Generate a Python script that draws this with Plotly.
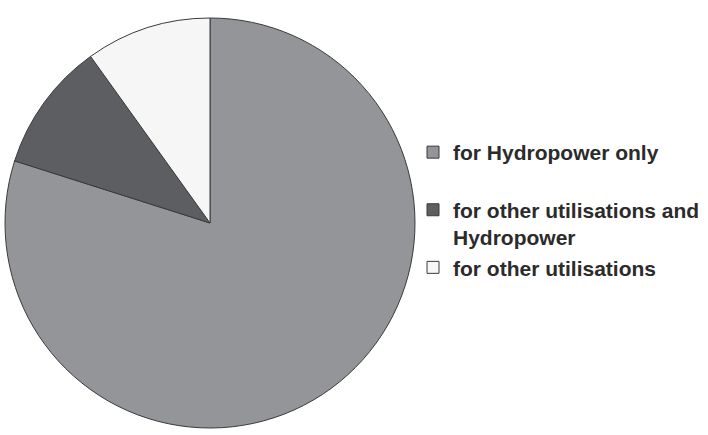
import plotly.graph_objects as go

labels = ["for Hydropower only<br> ", "for other utilisations and<br>Hydropower", "for other utilisations"]
values = [79.9, 10.2, 9.9]
colors = ["#939598", "#5d5e61", "#f6f6f6"]

W, H = 708, 435
cx, cy, r = 210, 223, 205

fig = go.Figure(go.Pie(
    labels=labels,
    values=values,
    sort=False,
    direction="clockwise",
    rotation=0,
    textinfo="none",
    hoverinfo="label+percent",
    marker=dict(colors=colors, line=dict(color="#3a3a3a", width=1)),
    domain=dict(x=[(cx - r) / W, (cx + r) / W], y=[(H - cy - r) / H, (H - cy + r) / H]),
))

fig.update_layout(
    width=W, height=H,
    margin=dict(l=0, r=0, t=0, b=0),
    paper_bgcolor="white",
    plot_bgcolor="white",
    showlegend=True,
    legend=dict(
        x=413 / W, xanchor="left",
        y=(H - 132) / H, yanchor="top",
        valign="top",
        font=dict(family="Liberation Sans, Arial, sans-serif", size=21, color="#2b2b2b", weight="bold"),
        bgcolor="rgba(0,0,0,0)",
        itemwidth=30,
    ),
)

fig.write_html("out.html")
